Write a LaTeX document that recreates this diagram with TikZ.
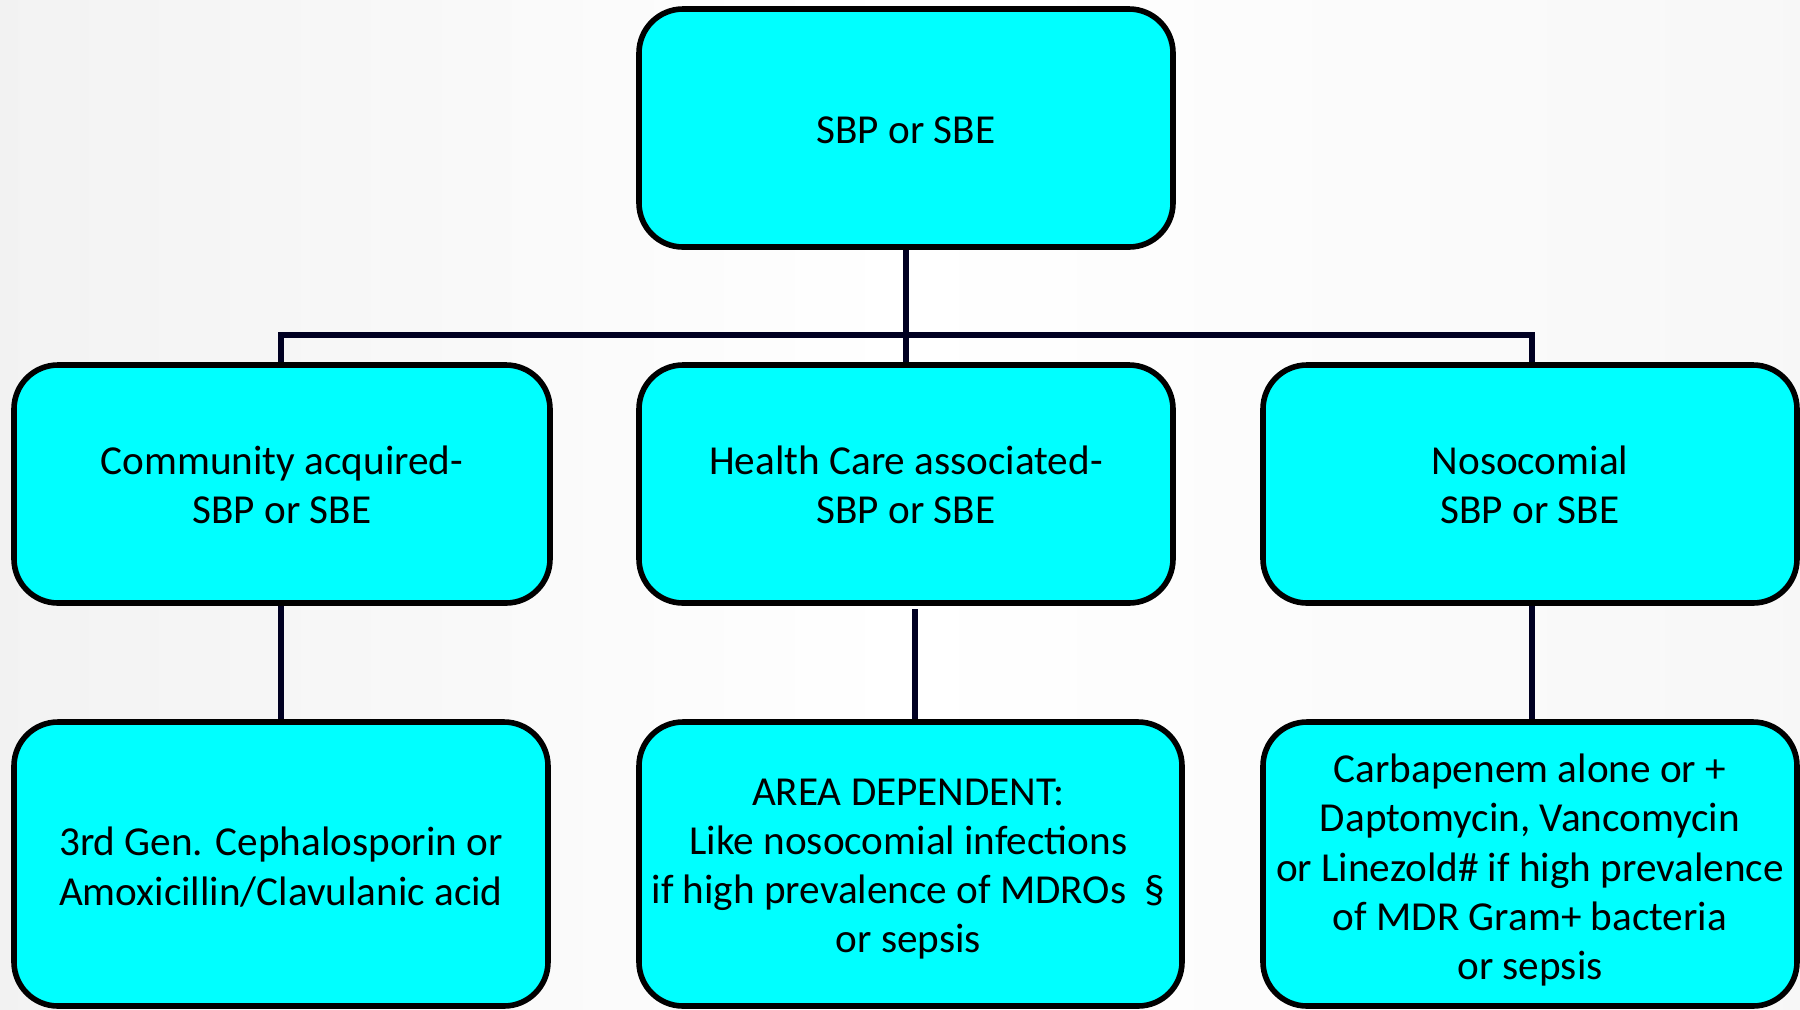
\documentclass[tikz,border=0pt]{standalone}
\usepackage{fontspec}
\setmainfont{Carlito}
\usetikzlibrary{calc}
\definecolor{boxfill}{HTML}{00FFFF}
\definecolor{connc}{HTML}{000022}
\tikzset{
  box/.style={draw=black, line width=2.8pt, fill=boxfill, rounded corners=22pt, inner sep=0pt},
  txt/.style={align=center, inner sep=0pt, font=\fontsize{20.6pt}{24.6pt}\selectfont},
  conn/.style={draw=connc, line width=3.4pt},
}
\begin{document}
\begin{tikzpicture}[x=0.5pt,y=-0.5pt]
\useasboundingbox (0,0) rectangle (1800,1009);
\shade[left color=black!5, right color=black!3, middle color=white] (0,0) rectangle (1800,1009);
% connectors first
\coordinate (topS) at (906,247);
\coordinate (mlN) at (281,365);
\coordinate (mmN) at (906,365);
\coordinate (mrN) at (1532,365);
\draw[conn] (topS) -- (mmN);
\draw[conn] (mlN) -- ++(0,-30) -| (mrN);
\coordinate (mlS) at (281,603);
\coordinate (blN) at (281,722);
\coordinate (mmS) at (915,609);
\coordinate (bmN) at (915,722);
\coordinate (mrS) at (1532,603);
\coordinate (brN) at (1532,722);
\draw[conn] (mlS) -- (blN);
\draw[conn] (mmS) -- (bmN);
\draw[conn] (mrS) -- (brN);
% boxes
\node[box, minimum width=267pt, minimum height=119pt] (top) at (906,128) {};
\node[box, minimum width=268pt, minimum height=119pt] (ml) at (282,484) {};
\node[box, minimum width=267pt, minimum height=119pt] (mm) at (906,484) {};
\node[box, minimum width=267pt, minimum height=119pt] (mr) at (1530,484) {};
\node[box, minimum width=267pt, minimum height=142pt] (bl) at (281,864) {};
\node[box, minimum width=271.5pt, minimum height=142pt] (bm) at (910.5,864) {};
\node[box, minimum width=267pt, minimum height=142pt] (br) at (1530,864) {};
% texts
\node[txt] (topt) at ([yshift=-1pt]top.center) {SBP or SBE};
\node[txt] (mlt) at ([yshift=-0.5pt]ml.center) {Community acquired-\\SBP or SBE};
\node[txt] (mmt) at ([yshift=-0.5pt]mm.center) {Health Care associated-\\SBP or SBE};
\node[txt] (mrt) at ([yshift=-0.5pt]mr.center) {Nosocomial\\SBP or SBE};
\node[txt] (blt) at ([yshift=-1.5pt]bl.center) {3rd Gen. Cephalosporin or\\Amoxicillin/Clavulanic acid};
\node[txt] (bmt) at ([yshift=-2.5pt,xshift=-1pt]bm.center) {AREA DEPENDENT:\\Like nosocomial infections\\if high prevalence of MDROs~~§\\or sepsis};
\node[txt] (brt) at ([yshift=-3pt]br.center) {Carbapenem alone or +\\Daptomycin, Vancomycin\\or Linezold\# if high prevalence\\of MDR Gram+ bacteria\\or sepsis};
\end{tikzpicture}
\end{document}
